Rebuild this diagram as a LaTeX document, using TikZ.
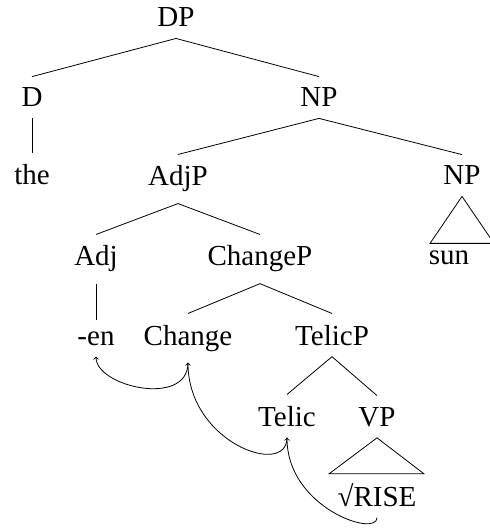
\documentclass[tikz,border=0pt]{standalone}
\usepackage{fontspec}
\setmainfont{Liberation Serif}
\usetikzlibrary{arrows}
\tikzset{lbl/.style = {anchor = base, inner xsep = 0, inner ysep = 8.25pt,
                       font = \fontsize{21.75}{26}\selectfont}}
\tikzset{move/.style = {-{to[scale = 1.5]}}}

\begin{document}
\begin{tikzpicture}[x = 0.75pt, y = -0.75pt, line width = 0.6pt]
      \useasboundingbox (0, 0) rectangle (489, 530);
      \node [lbl] (dp) at (176, 27) {DP};
      \node [lbl] (d) at (32, 107) {D};
      \node [lbl] (np) at (319, 107) {NP};
      \node [lbl] (the) at (32, 185) {the};
      \node [lbl] (adjp) at (178, 186) {AdjP};
      \node [lbl] (npb) at (462, 185) {NP};
      \node [lbl] (adj) at (96, 266) {Adj};
      \node [lbl] (changep) at (260, 266) {ChangeP};
      \node [lbl] (sun) at (449, 264) {sun};
      \node [lbl] (en) at (96, 345) {-en};
      \node [lbl] (change) at (188, 345) {Change};
      \node [lbl] (telicp) at (332, 345) {TelicP};
      \node [lbl] (telic) at (287, 426) {Telic};
      \node [lbl] (vp) at (377, 426) {VP};
      \node [lbl] (rise) at (377, 506) {√RISE};
      \draw (d.north) -- (dp.south) -- (np.north);
      \draw (d.south) -- (the.north);
      \draw (adjp.north) -- (np.south) -- (npb.north);
      \draw (adj.north) -- (adjp.south) -- (changep.north);
      \draw (adj.south) -- (en.north);
      \draw (change.north) -- (changep.south) -- (telicp.north);
      \draw (telic.north) -- (telicp.south) -- (vp.north);
      \draw (npb.south) -- +(-32, 47) -- +(32, 47) -- cycle;
      \draw (vp.south) -- +(-48, 36) -- +(47, 36) -- cycle;
      % head movement
      \draw [move] (change.south) .. controls +(0, 45) and +(0, 30) .. (en.south);
      \draw [move] (telic.south) .. controls +(0, 40) and +(0, 80) .. (change.south);
      \draw [move] (rise.south) .. controls +(0, 20) and +(0, 70) .. (telic.south);
    \end{tikzpicture}
\end{document}
